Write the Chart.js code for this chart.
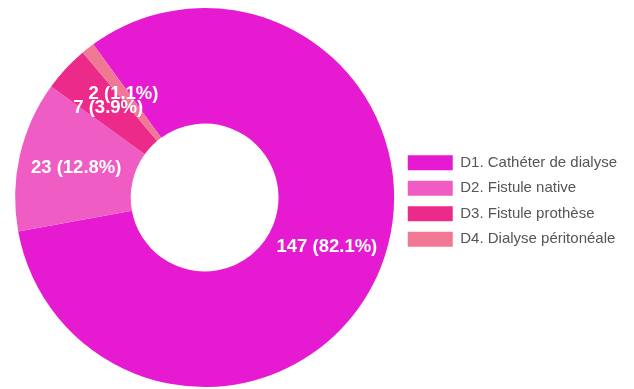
<!DOCTYPE html>
<html>
<head>
<meta charset="utf-8">
<script src="https://cdn.jsdelivr.net/npm/chart.js@4/dist/chart.umd.min.js"></script>
<style>
  html, body { margin: 0; padding: 0; background: #fff; }
  #wrap { width: 634px; height: 389px; }
</style>
</head>
<body>
<div id="wrap"><canvas id="chartAcces"></canvas></div>
<script>
// Accès vasculaire — répartition
const labels = ['D1. Cathéter de dialyse', 'D2. Fistule native', 'D3. Fistule prothèse', 'D4. Dialyse péritonéale'];
const counts = [147, 23, 7, 2];
const colors = ['#e61ad0', '#ee5cc4', '#eb2a8a', '#f07894'];

const total = counts.reduce((s, v) => s + v, 0);

// value + percentage written on each slice
const sliceLabels = {
  id: 'sliceLabels',
  afterDatasetsDraw(chart) {
    const ctx = chart.ctx;
    const meta = chart.getDatasetMeta(0);
    ctx.save();
    ctx.font = 'bold 18.5px "Liberation Sans", Arial, sans-serif';
    ctx.fillStyle = '#fff';
    ctx.textAlign = 'center';
    ctx.textBaseline = 'middle';
    meta.data.forEach((arc, i) => {
      const p = arc.tooltipPosition();
      const pct = (counts[i] / total * 100).toFixed(1);
      ctx.fillText(`${counts[i]} (${pct}%)`, p.x, p.y);
    });
    ctx.restore();
  }
};

new Chart(document.getElementById('chartAcces').getContext('2d'), {
  type: 'doughnut',
  data: {
    labels,
    datasets: [{ data: counts, backgroundColor: colors, borderWidth: 0 }]
  },
  options: {
    responsive: true, maintainAspectRatio: false,
    animation: false,
    rotation: -36,
    cutout: '39%',
    layout: { padding: { top: 8, bottom: 2, left: 12, right: 7 } },
    plugins: {
      legend: {
        position: 'right',
        // empty title only pushes the items down a little
        title: { display: true, text: ' ', font: { size: 7, lineHeight: 1 }, padding: 0 },
        labels: {
          boxWidth: 45, boxHeight: 15, padding: 10.5,
          color: '#555',
          font: { size: 15, family: '"Liberation Sans", Arial, sans-serif' }
        }
      },
      tooltip: { enabled: false }
    }
  },
  plugins: [sliceLabels]
});
</script>
</body>
</html>
